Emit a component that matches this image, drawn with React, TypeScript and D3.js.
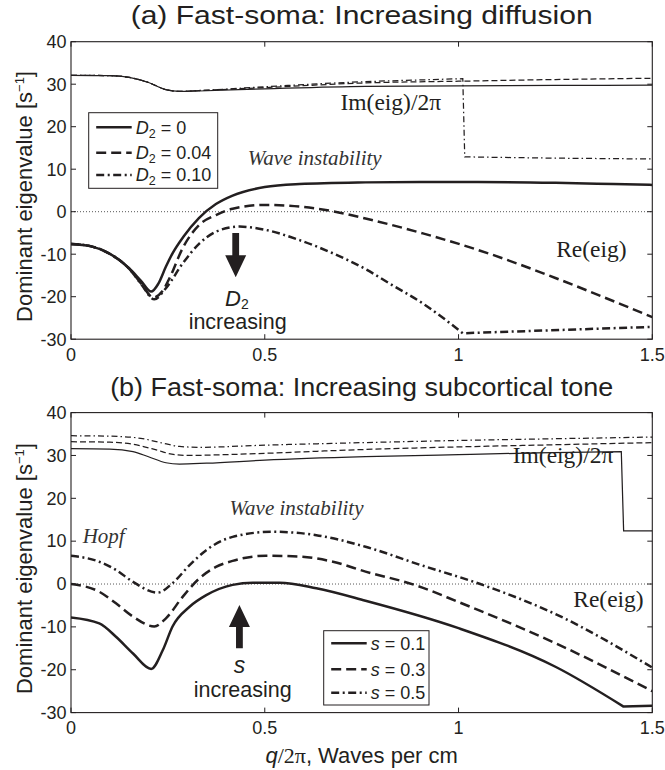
import React from "react";
import * as d3 from "d3";

type P = [number, number];

// ---------- data (q/2π in waves per cm, eigenvalue in s^-1) ----------
const xTicks = [0, 0.5, 1, 1.5];
const xTickLabels = ["0", "0.5", "1", "1.5"];
const yTicks = [-30, -20, -10, 0, 10, 20, 30, 40];
const yTickLabels = ["-30", "-20", "-10", "0", "10", "20", "30", "40"];

// Panel (a): increasing diffusion D2
const legendA = ["0", "0.04", "0.10"];
const reD0: P[] = [[0,-7.6],[0.05,-8.1],[0.1,-9.9],[0.15,-13.3],[0.18,-16.2],[0.207,-18.8],[0.225,-17.0],[0.245,-12.9],[0.262,-9.8],[0.29,-5.9],[0.33,-1.5],[0.374,1.8],[0.417,3.8],[0.5,5.8],[0.59,6.5],[0.76,6.9],[0.9,7.0],[1.05,7.0],[1.25,6.8],[1.4,6.5],[1.5,6.3]];
const reD04: P[] = [[0,-7.6],[0.05,-8.1],[0.1,-9.9],[0.15,-13.4],[0.18,-16.8],[0.213,-20.2],[0.235,-18.8],[0.255,-15.5],[0.288,-8.6],[0.331,-3.1],[0.374,-0.8],[0.417,0.7],[0.503,1.6],[0.59,1.2],[0.676,0.1],[0.76,-1.6],[0.908,-5.1],[1.08,-9.9],[1.25,-15.6],[1.42,-21.8],[1.5,-24.8]];
const reD10: P[] = [[0,-7.6],[0.05,-8.1],[0.1,-9.9],[0.15,-13.4],[0.18,-16.9],[0.215,-20.6],[0.245,-18.0],[0.288,-12.2],[0.331,-7.5],[0.374,-4.7],[0.435,-3.5],[0.503,-4.3],[0.59,-6.7],[0.676,-9.8],[0.76,-13.5],[0.822,-16.9],[0.908,-21.6],[1.011,-28.6]];
const reD10Tail: P[] = [[1.011,-28.6],[1.5,-27.1]];
const imD0: P[] = [[0,32.1],[0.1,32.0],[0.15,31.6],[0.2,30.4],[0.245,28.7],[0.28,28.3],[0.33,28.4],[0.5,28.9],[0.76,29.5],[1.0,29.6],[1.25,29.7],[1.5,29.8]];
const imD04: P[] = [[0,32.1],[0.1,32.0],[0.15,31.6],[0.2,30.4],[0.245,28.7],[0.28,28.3],[0.33,28.5],[0.5,29.2],[0.76,30.3],[1.0,30.7],[1.25,31.1],[1.5,31.4]];
const imD10: P[] = [[0,32.1],[0.1,32.0],[0.15,31.6],[0.2,30.4],[0.245,28.7],[0.28,28.3],[0.33,28.5],[0.5,29.4],[0.76,30.6],[0.9,31.0],[1.011,31.3]];
const imD10Tail: P[] = [[1.011,31.3],[1.016,12.9],[1.25,12.6],[1.5,12.4]];

// Panel (b): increasing subcortical tone s
const legendB = ["0.1", "0.3", "0.5"];
const reS1: P[] = [[0,-7.8],[0.073,-9.2],[0.116,-12.3],[0.16,-16.2],[0.207,-19.8],[0.237,-15.4],[0.262,-9.9],[0.306,-5.3],[0.349,-2.6],[0.417,-0.2],[0.469,0.3],[0.538,0.3],[0.633,-1.0],[0.76,-3.9],[1.0,-10.3],[1.25,-19.3],[1.426,-28.6]];
const reS1Tail: P[] = [[1.426,-28.6],[1.5,-28.4]];
const reS3: P[] = [[0,0.0],[0.073,-1.8],[0.116,-4.5],[0.16,-7.6],[0.215,-9.9],[0.245,-8.0],[0.288,-3.0],[0.331,1.3],[0.374,4.0],[0.417,5.4],[0.503,6.6],[0.59,6.4],[0.676,5.2],[0.76,2.9],[0.89,-0.3],[1.0,-4.2],[1.25,-13.8],[1.5,-25.0]];
const reS5: P[] = [[0,6.6],[0.073,5.2],[0.116,3.3],[0.16,0.5],[0.224,-2.0],[0.262,0.2],[0.306,4.4],[0.349,7.9],[0.417,11.0],[0.52,12.2],[0.633,11.4],[0.76,8.7],[0.9,4.5],[1.056,0.0],[1.25,-7.0],[1.5,-19.5]];
const imS1: P[] = [[0,31.6],[0.1,31.5],[0.16,30.9],[0.2,29.7],[0.245,28.3],[0.28,28.0],[0.35,28.2],[0.5,28.9],[0.76,29.7],[1.0,30.2],[1.2,30.6],[1.42,30.9]];
const imS1Tail: P[] = [[1.42,30.9],[1.426,12.4],[1.5,12.4]];
const imS3: P[] = [[0,33.2],[0.1,33.1],[0.16,32.6],[0.22,31.3],[0.26,30.3],[0.3,30.0],[0.4,30.2],[0.5,30.5],[0.76,31.4],[1.0,32.0],[1.25,32.5],[1.5,33.0]];
const imS5: P[] = [[0,34.6],[0.1,34.5],[0.18,34.0],[0.24,32.8],[0.28,32.1],[0.33,31.9],[0.5,32.4],[0.76,33.0],[1.0,33.5],[1.25,33.9],[1.5,34.3]];

// ---------- layout / style ----------
const W = 665, H = 770;
const LEFT = 71, RIGHT = 652.3;
const INK = "#231f20";
const SANS = "'Liberation Sans', Arial, Helvetica, sans-serif";
const SERIF = "'Liberation Serif', 'Times New Roman', serif";
const DASH = "10,5";
const DASHDOT = "8,3.5,2,3.5";
const THIN_DASH = "6,3";
const THIN_DASHDOT = "6,3,1.5,3";
const styles = [
  { dash: undefined, thin: undefined },
  { dash: DASH, thin: THIN_DASH },
  { dash: DASHDOT, thin: THIN_DASHDOT },
];

const x = d3.scaleLinear().domain([0, 1.5]).range([LEFT, RIGHT]);

function makePath(y: d3.ScaleLinear<number, number>, smooth: P[], tail?: P[]) {
  const ls = d3.line<P>().x(d => x(d[0])).y(d => y(d[1])).curve(d3.curveMonotoneX);
  let s = ls(smooth) || "";
  if (tail) {
    const lt = d3.line<P>().x(d => x(d[0])).y(d => y(d[1]));
    s += (lt(tail) || "").replace(/^M/, "L");
  }
  return s;
}

function Axes({ y, top, bottom }: { y: d3.ScaleLinear<number, number>; top: number; bottom: number }) {
  const tl = 5;
  return (
    <g>
      <line x1={x(0)} x2={x(1.5)} y1={y(0)} y2={y(0)} stroke="#444" strokeWidth={0.9} strokeDasharray="1,2" />
      {xTicks.map((t, i) => (
        <g key={"x" + i}>
          <line x1={x(t)} x2={x(t)} y1={bottom} y2={bottom - tl} stroke={INK} strokeWidth={1} />
          <line x1={x(t)} x2={x(t)} y1={top} y2={top + tl} stroke={INK} strokeWidth={1} />
          <text x={x(t)} y={bottom + 21.5} textAnchor="middle" fontFamily={SANS} fontSize={18} fill={INK}>
            {xTickLabels[i]}
          </text>
        </g>
      ))}
      {yTicks.map((t, i) => (
        <g key={"y" + i}>
          <line x1={LEFT} x2={LEFT + tl} y1={y(t)} y2={y(t)} stroke={INK} strokeWidth={1} />
          <line x1={RIGHT} x2={RIGHT - tl} y1={y(t)} y2={y(t)} stroke={INK} strokeWidth={1} />
          <text x={LEFT - 4.5} y={y(t) + 6.3} textAnchor="end" fontFamily={SANS} fontSize={18} fill={INK}>
            {yTickLabels[i]}
          </text>
        </g>
      ))}
      <rect x={LEFT} y={top} width={RIGHT - LEFT} height={bottom - top} fill="none" stroke={INK} strokeWidth={1.1} />
      <text
        transform={`translate(32,${(top + bottom) / 2 + 6}) rotate(-90)`}
        textAnchor="middle"
        fontFamily={SANS}
        fontSize={22}
        fill={INK}
      >
        Dominant eigenvalue [s<tspan fontSize={13} dy={-8}>−1</tspan><tspan dy={8}>]</tspan>
      </text>
    </g>
  );
}

function Arrow({ px, y1, y2 }: { px: number; y1: number; y2: number }) {
  // from y1 (tail) to y2 (tip)
  const dir = y2 > y1 ? 1 : -1;
  const hl = 22, hw = 10.5, sw = 3.4;
  const hb = y2 - dir * hl;
  const d = `M${px - sw},${y1} L${px + sw},${y1} L${px + sw},${hb} L${px + hw},${hb} L${px},${y2} L${px - hw},${hb} L${px - sw},${hb} Z`;
  return <path d={d} fill={INK} />;
}

function Legend({ x0, y0, w, h, rows, sym }: { x0: number; y0: number; w: number; h: number; rows: string[]; sym: "D" | "s" }) {
  const rowY = sym === "D" ? [14.6, 40, 62.3] : [12.6, 38.6, 62];
  return (
    <g>
      <rect x={x0} y={y0} width={w} height={h} fill="white" stroke={INK} strokeWidth={1} />
      {rows.map((r, i) => (
        <g key={i}>
          <line x1={x0 + 7.5} x2={x0 + 43} y1={y0 + rowY[i]} y2={y0 + rowY[i]} stroke={INK} strokeWidth={2.4} strokeDasharray={styles[i].dash} />
          <text x={x0 + 47} y={y0 + rowY[i] + 6.3} fontFamily={SANS} fontSize={18} fill={INK}>
            {sym === "D" ? (
              <>
                <tspan fontStyle="italic">D</tspan>
                <tspan fontSize={12.5} dy={4}>2</tspan>
                <tspan dy={-4}>{" = " + r}</tspan>
              </>
            ) : (
              <>
                <tspan fontStyle="italic">s</tspan>
                <tspan>{" = " + r}</tspan>
              </>
            )}
          </text>
        </g>
      ))}
    </g>
  );
}

export default function App() {
  const topA = 41.7, botA = 339.2;
  const topB = 412.6, botB = 712.6;
  const yA = d3.scaleLinear().domain([-30, 40]).range([botA, topA]);
  const yB = d3.scaleLinear().domain([-30, 40]).range([botB, topB]);

  const reA = [makePath(yA, reD0), makePath(yA, reD04), makePath(yA, reD10, reD10Tail)];
  const imA = [makePath(yA, imD0), makePath(yA, imD04), makePath(yA, imD10, imD10Tail)];
  const reB = [makePath(yB, reS1, reS1Tail), makePath(yB, reS3), makePath(yB, reS5)];
  const imB = [makePath(yB, imS1, imS1Tail), makePath(yB, imS3), makePath(yB, imS5)];

  return (
    <svg width={W} height={H} viewBox={`0 0 ${W} ${H}`} style={{ position: "absolute", left: 0, top: 0, background: "white" }}>
      <defs>
        <clipPath id="clipA"><rect x={LEFT} y={topA} width={RIGHT - LEFT} height={botA - topA} /></clipPath>
        <clipPath id="clipB"><rect x={LEFT} y={topB} width={RIGHT - LEFT} height={botB - topB} /></clipPath>
      </defs>
      <rect x={0} y={0} width={W} height={H} fill="white" />

      {/* Panel (a) */}
      <text x={(LEFT + RIGHT) / 2} y={24} textAnchor="middle" fontFamily={SANS} fontSize={26.5} fill={INK}
        textLength={462} lengthAdjust="spacingAndGlyphs">
        (a) Fast-soma: Increasing diffusion
      </text>
      <Axes y={yA} top={topA} bottom={botA} />
      <g clipPath="url(#clipA)" fill="none" stroke={INK}>
        {imA.map((d, i) => <path key={"ia" + i} d={d} strokeWidth={1.25} strokeDasharray={styles[i].thin} />)}
        {reA.map((d, i) => <path key={"ra" + i} d={d} strokeWidth={2.5} strokeDasharray={styles[i].dash} />)}
      </g>
      <Legend x0={88.7} y0={112.7} w={129} h={75.6} rows={legendA} sym="D" />
      <text x={x(0.955)} y={yA(23.9)} textAnchor="end" fontFamily={SERIF} fontSize={23.5} fill={INK}>Im(eig)/2π</text>
      <text x={x(1.252)} y={yA(-10.6)} fontFamily={SERIF} fontSize={23.5} fill={INK}>Re(eig)</text>
      <text x={x(0.456)} y={yA(11.0)} fontFamily={SERIF} fontStyle="italic" fontSize={21} fill="#333">Wave instability</text>
      <Arrow px={x(0.425)} y1={yA(-5.0)} y2={yA(-15.4)} />
      <text x={x(0.428)} y={yA(-22.2)} textAnchor="middle" fontFamily={SANS} fontSize={22} fill={INK}>
        <tspan fontStyle="italic">D</tspan>
        <tspan fontSize={14} dy={3}>2</tspan>
      </text>
      <text x={x(0.43)} y={yA(-27.6)} textAnchor="middle" fontFamily={SANS} fontSize={21.5} fill={INK}>increasing</text>

      {/* Panel (b) */}
      <text x={(LEFT + RIGHT) / 2} y={395.6} textAnchor="middle" fontFamily={SANS} fontSize={26.5} fill={INK}
        textLength={503} lengthAdjust="spacingAndGlyphs">
        (b) Fast-soma: Increasing subcortical tone
      </text>
      <Axes y={yB} top={topB} bottom={botB} />
      <g clipPath="url(#clipB)" fill="none" stroke={INK}>
        {imB.map((d, i) => <path key={"ib" + i} d={d} strokeWidth={1.25} strokeDasharray={styles[i].thin} />)}
        {reB.map((d, i) => <path key={"rb" + i} d={d} strokeWidth={2.5} strokeDasharray={styles[i].dash} />)}
      </g>
      <Legend x0={323.7} y0={630.7} w={105.3} h={74.3} rows={legendB} sym="s" />
      <text x={x(1.3995)} y={yB(28.2)} textAnchor="end" fontFamily={SERIF} fontSize={23.5} fill={INK}>Im(eig)/2π</text>
      <text x={x(1.296)} y={yB(-5.4)} fontFamily={SERIF} fontSize={23.5} fill={INK}>Re(eig)</text>
      <text x={x(0.409)} y={yB(16.1)} fontFamily={SERIF} fontStyle="italic" fontSize={21} fill="#333">Wave instability</text>
      <text x={x(0.03)} y={yB(9.56)} fontFamily={SERIF} fontStyle="italic" fontSize={21} fill="#333">Hopf</text>
      <Arrow px={x(0.4346)} y1={yB(-15.0)} y2={yB(-4.9)} />
      <text x={x(0.4346)} y={yB(-20.8)} textAnchor="middle" fontFamily={SANS} fontStyle="italic" fontSize={23} fill={INK}>s</text>
      <text x={x(0.443)} y={yB(-26.3)} textAnchor="middle" fontFamily={SANS} fontSize={21.5} fill={INK}>increasing</text>

      {/* x label */}
      <text x={(LEFT + RIGHT) / 2} y={763} textAnchor="middle" fontFamily={SANS} fontSize={22} fill={INK}>
        <tspan fontStyle="italic">q</tspan>
        <tspan fontFamily={SERIF}>/2π</tspan>
        <tspan>, Waves per cm</tspan>
      </text>
    </svg>
  );
}
